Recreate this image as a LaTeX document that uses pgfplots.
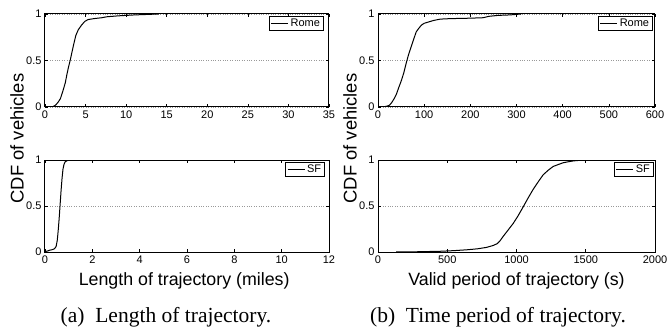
\documentclass[border=0pt]{standalone}
\usepackage{pgfplots}
\pgfplotsset{compat=1.18}
\usepackage{fontspec}
\setmainfont{Liberation Sans}
\newfontfamily\capfont{Liberation Serif}

\pgfplotsset{cdfstyle/.style={
  scale only axis,
  xmin=0, ymin=0, ymax=1,
  ytick={0,0.5,1},
  ymajorgrids,
  grid style={dotted, gray!80, line width=0.6pt},
  axis line style={line width=1pt},
  tick align=inside,
  major tick length=3pt,
  tick style={black, line width=0.6pt},
  tick label style={font=\fontsize{11}{13}\selectfont},
  /pgf/number format/assume math mode=true,
  /pgf/number format/1000 sep={},
  scaled x ticks=false,
  legend style={anchor=north east, draw=black, line width=0.9pt,
    font=\fontsize{11}{12}\selectfont, inner xsep=1.5pt, inner ysep=0.5pt},
  legend image code/.code={\draw[#1, line width=0.9pt] (0pt,0pt) -- (17pt,0pt);},
  cycle list={{black, line width=1pt, mark=none}},
}}

\begin{document}
\begin{tikzpicture}[x=1pt,y=1pt]
\useasboundingbox (0,0) rectangle (667,327);

% (a) top: Rome length
\begin{axis}[cdfstyle, at={(45pt,220pt)}, anchor=south west, width=284pt, height=93pt,
  xmax=35, xtick={0,5,...,35}, legend style={at={(0.982,0.978)}}]
\addplot[black, line width=1pt, mark=none] table {
x y
0.5 0
1.0 0.005
1.3 0.02
1.6 0.05
1.9 0.09
2.2 0.17
2.5 0.26
2.7 0.35
2.9 0.43
3.1 0.50
3.3 0.58
3.5 0.66
3.8 0.77
4.1 0.83
4.5 0.88
4.9 0.92
5.3 0.94
6.0 0.95
7.0 0.96
7.6 0.97
9 0.98
10 0.985
11 0.99
12.5 0.995
14 1.0
};
\addlegendentry{Rome}
\end{axis}

% (b) top: Rome time
\begin{axis}[cdfstyle, at={(378pt,220pt)}, anchor=south west, width=277pt, height=93pt,
  xmax=600, xtick={0,100,...,600}, legend style={at={(0.993,0.978)}}]
\addplot[black, line width=1pt, mark=none] table {
x y
5 0
15 0.005
20 0.01
25 0.02
30 0.05
35 0.09
40 0.14
45 0.21
51 0.29
56 0.37
61 0.47
66 0.56
72 0.65
78 0.74
83 0.81
89 0.85
94 0.88
100 0.90
110 0.915
120 0.93
135 0.945
155 0.95
200 0.955
228 0.96
240 0.975
260 0.985
285 0.99
310 1.0
};
\addlegendentry{Rome}
\end{axis}

% (a) bottom: SF length
\begin{axis}[cdfstyle, at={(45pt,75pt)}, anchor=south west, width=284pt, height=92pt,
  xmax=12, xtick={0,2,...,12}, legend style={at={(0.986,0.978)}},
  xlabel={Length of trajectory (miles)},
  xlabel style={at={(axis description cs:0.49,0)}, anchor=base, yshift=-33pt,
    font=\fontsize{17.8}{20}\selectfont, inner sep=0pt}]
\addplot[black, line width=1pt, mark=none] table {
x y
0 0.005
0.1 0.01
0.2 0.02
0.3 0.025
0.4 0.035
0.47 0.06
0.52 0.13
0.56 0.24
0.6 0.37
0.64 0.52
0.68 0.67
0.72 0.8
0.76 0.9
0.8 0.95
0.85 0.98
0.95 0.995
1.05 1.0
1.6 1.0
};
\addlegendentry{SF}
\end{axis}

% (b) bottom: SF time
\begin{axis}[cdfstyle, at={(378pt,75pt)}, anchor=south west, width=277pt, height=92pt,
  xmax=2000, xtick={0,500,...,2000}, legend style={at={(0.996,0.978)}},
  xlabel={Valid period of trajectory (s)},
  xlabel style={at={(axis description cs:0.5,0)}, anchor=base, yshift=-33pt,
    font=\fontsize{17.8}{20}\selectfont, inner sep=0pt}]
\addplot[black, line width=1pt, mark=none] table {
x y
130 0
300 0.003
450 0.008
550 0.015
650 0.025
720 0.035
783 0.05
830 0.07
860 0.09
880 0.12
904 0.17
940 0.24
976 0.31
1010 0.39
1048 0.49
1085 0.59
1120 0.68
1160 0.77
1193 0.84
1230 0.89
1265 0.93
1300 0.95
1337 0.97
1370 0.98
1410 0.99
1460 0.997
1506 1.0
1520 1.0
};
\addlegendentry{SF}
\end{axis}

% shared y labels
\node[rotate=90, font=\fontsize{18.4}{20}\selectfont, inner sep=0pt] at (17,188.5) {CDF of vehicles};
\node[rotate=90, font=\fontsize{18.4}{20}\selectfont, inner sep=0pt] at (350,188.5) {CDF of vehicles};

% sub-captions
\node[anchor=base, font=\capfont\fontsize{21.5}{24}\selectfont, inner sep=0pt] at (166,5) {(a)\ \ Length of trajectory.};
\node[anchor=base, font=\capfont\fontsize{21.5}{24}\selectfont, inner sep=0pt] at (498,5) {(b)\ \ Time period of trajectory.};
\end{tikzpicture}
\end{document}
